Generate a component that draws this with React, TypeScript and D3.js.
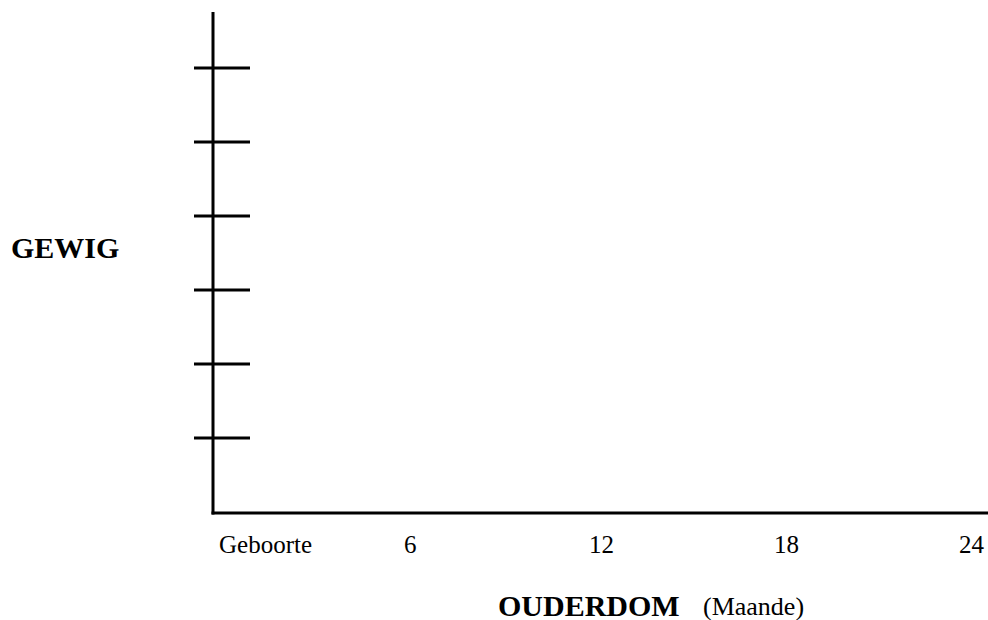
import React, { useEffect, useRef } from 'react'
import * as d3 from 'd3'

// months along the bottom, unlabeled weight marks up the side
const months = [0, 6, 12, 18, 24]
const monthLabels = ['Geboorte', '6', '12', '18', '24']
const weightTicks = [1, 2, 3, 4, 5, 6]

const yTitle = 'GEWIG'
const xTitle = 'OUDERDOM'
const xUnit = '(Maande)'

const width = 988
const height = 620
const font = '"Liberation Serif", "Times New Roman", serif'

export default function App() {
  const ref = useRef<SVGSVGElement>(null)

  useEffect(() => {
    const svg = d3.select(ref.current)
    svg.selectAll('*').remove()

    const originX = 213
    const originY = 513

    const xScale = d3.scaleLinear().domain([0, 24]).range([219, 959])
    const yScale = d3.scaleLinear().domain([1, 6]).range([438, 68])

    // y axis line
    svg.append('line')
      .attr('x1', originX).attr('x2', originX)
      .attr('y1', 12).attr('y2', originY + 1.5)
      .attr('stroke', '#000').attr('stroke-width', 3)

    // x axis line
    svg.append('line')
      .attr('x1', originX - 1.5).attr('x2', width)
      .attr('y1', originY).attr('y2', originY)
      .attr('stroke', '#000').attr('stroke-width', 3)

    // weight ticks crossing the y axis
    svg.append('g')
      .selectAll('line')
      .data(weightTicks)
      .enter()
      .append('line')
      .attr('x1', 194).attr('x2', 250)
      .attr('y1', d => yScale(d)).attr('y2', d => yScale(d))
      .attr('stroke', '#000').attr('stroke-width', 3)

    // month labels
    svg.append('g')
      .selectAll('text')
      .data(months)
      .enter()
      .append('text')
      .attr('x', d => xScale(d))
      .attr('y', 553)
      .attr('font-family', font)
      .attr('font-size', 25)
      .attr('fill', '#000')
      .text((d, i) => monthLabels[i])

    svg.append('text')
      .attr('x', 11).attr('y', 258)
      .attr('font-family', font)
      .attr('font-size', 30)
      .attr('font-weight', 'bold')
      .text(yTitle)

    svg.append('text')
      .attr('x', 498).attr('y', 616)
      .attr('font-family', font)
      .attr('font-size', 30)
      .attr('font-weight', 'bold')
      .text(xTitle)

    svg.append('text')
      .attr('x', 703).attr('y', 615)
      .attr('font-family', font)
      .attr('font-size', 26)
      .text(xUnit)
  }, [])

  return (
    <svg
      ref={ref}
      width={width}
      height={height}
      style={{ position: 'absolute', left: 0, top: 0, background: '#fff' }}
    />
  )
}
